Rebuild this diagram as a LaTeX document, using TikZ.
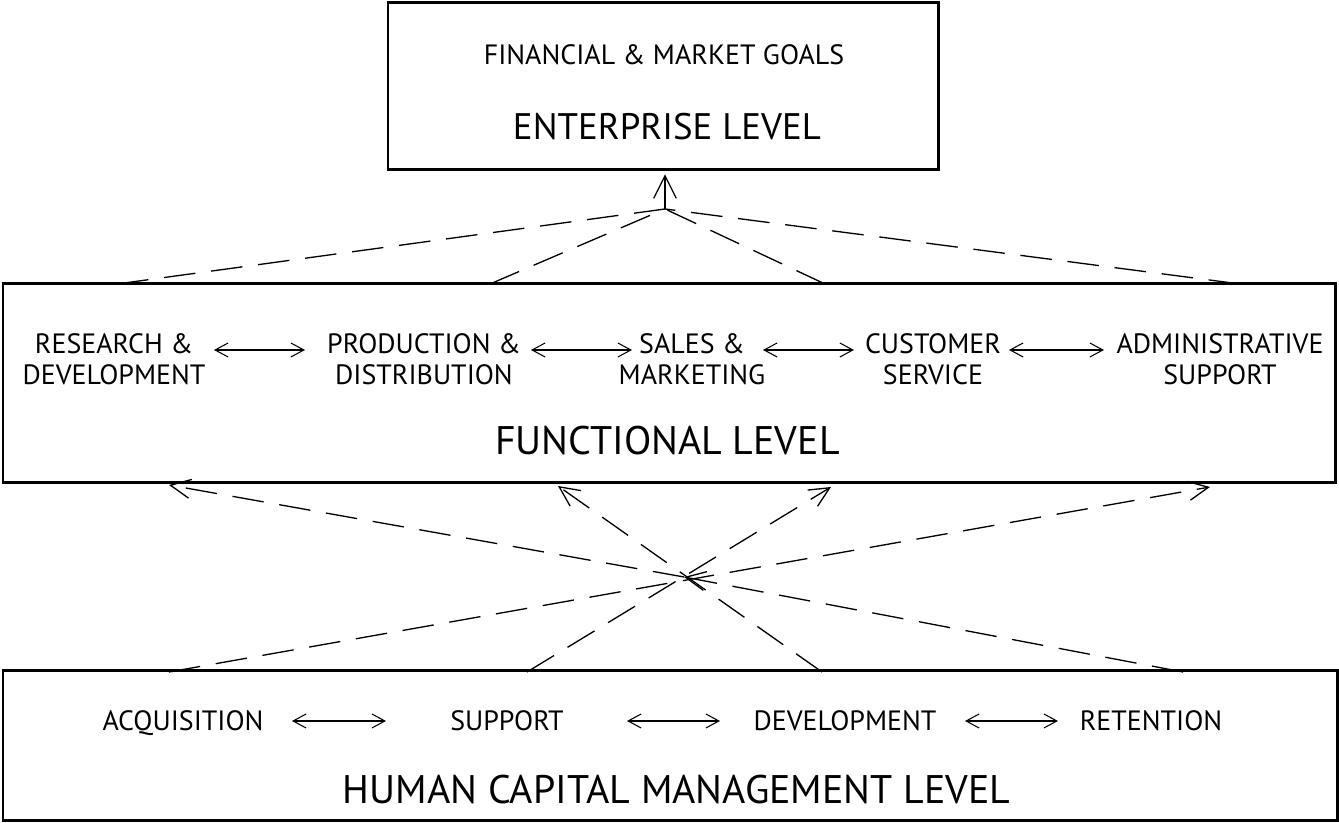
\documentclass[tikz,border=0pt]{standalone}
\usepackage{fontspec}
\setmainfont{PT Sans}
\usepackage{tikz}
\usetikzlibrary{arrows.meta,positioning}
\tikzset{>={Straight Barb[length=0.26cm,width=0.28cm]}}

\begin{document}
\begin{tikzpicture}[lvl/.style={draw,line width=1.7pt,inner sep=0pt},
                    item/.style={align=center,inner sep=0pt,text depth=0pt,font=\fontsize{15.9}{17.3}\selectfont},
                    big/.style={inner sep=0pt,text depth=0pt,font=\fontsize{22.7}{26}\selectfont},
                    dsh/.style={line width=0.75pt,dash pattern=on 18pt off 9pt},
                    dbl/.style={<->,line width=0.6pt}]
              \useasboundingbox (0,0) rectangle (26.78,16.46);

              \node[lvl,minimum width=11cm,minimum height=3.34cm] (ent) at (13.26,14.73) {};
              \node[lvl,minimum width=26.64cm,minimum height=3.98cm] (fun) at (13.38,8.79) {};
              \node[lvl,minimum width=26.68cm,minimum height=3cm] (hcm) at (13.40,1.54) {};

              \node[item] (goals) at (13.28,15.36) {FINANCIAL \& MARKET GOALS};
              \node[big,font=\fontsize{21}{24}\selectfont] (entlbl) at (13.34,13.94) {ENTERPRISE LEVEL};
              \node[big] (funlbl) at (13.35,7.66) {FUNCTIONAL LEVEL};
              \node[big] (hcmlbl) at (13.53,0.68) {HUMAN CAPITAL MANAGEMENT LEVEL};

              \node[item] (rd) at (2.28,9.28) {RESEARCH \&\\DEVELOPMENT};
              \node[item] (pd) at (8.48,9.28) {PRODUCTION \&\\DISTRIBUTION};
              \node[item] (sm) at (13.84,9.28) {SALES \&\\MARKETING};
              \node[item] (cs) at (18.66,9.28) {CUSTOMER\\SERVICE};
              \node[item] (as) at (24.40,9.28) {ADMINISTRATIVE\\SUPPORT};

              \node[item] (acq) at (3.66,2.04) {ACQUISITION};
              \node[item] (sup) at (10.14,2.04) {SUPPORT};
              \node[item] (dev) at (16.90,2.04) {DEVELOPMENT};
              \node[item] (ret) at (23.02,2.04) {RETENTION};

              \coordinate (apex) at (13.30,12.28);
              \coordinate (fu1) at (2.34,10.78);
              \coordinate (fu2) at (9.80,10.78);
              \coordinate (fu3) at (16.50,10.78);
              \coordinate (fu4) at (24.80,10.78);

              \coordinate (hub) at (13.68,4.92);
              \coordinate (fl1) at (3.38,6.76);
              \coordinate (fl2) at (11.16,6.74);
              \coordinate (fl3) at (16.62,6.72);
              \coordinate (fl4) at (24.20,6.72);
              \coordinate (hu1) at (3.38,3.02);
              \coordinate (hu2) at (10.54,3.02);
              \coordinate (hu3) at (16.44,3.02);
              \coordinate (hu4) at (23.66,3.02);

              \draw[dbl,shorten <=2.00cm,shorten >=2.38cm] ([yshift=0.18cm]rd.center) -- ([yshift=0.18cm]pd.center);
              \draw[dbl,shorten <=2.14cm,shorten >=1.20cm] ([yshift=0.18cm]pd.center) -- ([yshift=0.18cm]sm.center);
              \draw[dbl,shorten <=1.42cm,shorten >=1.58cm] ([yshift=0.18cm]sm.center) -- ([yshift=0.18cm]cs.center);
              \draw[dbl,shorten <=1.52cm,shorten >=2.32cm] ([yshift=0.18cm]cs.center) -- ([yshift=0.18cm]as.center);

              \draw[dbl,shorten <=2.18cm,shorten >=2.42cm] (acq.center) -- (sup.center);
              \draw[dbl,shorten <=2.40cm,shorten >=2.50cm] (sup.center) -- (dev.center);
              \draw[dbl,shorten <=2.40cm,shorten >=1.86cm] (dev.center) -- (ret.center);

              \draw[dsh] (fu1) -- (apex);
              \draw[dsh] (fu2) -- (apex);
              \draw[dsh] (fu3) -- (apex);
              \draw[dsh] (fu4) -- (apex);
              \draw[-{Straight Barb[length=0.45cm,width=0.45cm]},line width=0.7pt,shorten >=0.06cm] (apex) -- (apex |- ent.south);

              \draw[dsh,-{Straight Barb[length=0.4cm,width=0.38cm]}] (hu1) -- (fl4);
              \draw[dsh,-{Straight Barb[length=0.4cm,width=0.38cm]}] (hu2) -- (fl3);
              \draw[dsh,-{Straight Barb[length=0.4cm,width=0.38cm]}] (hu3) -- (fl2);
              \draw[dsh,-{Straight Barb[length=0.4cm,width=0.38cm]}] (hu4) -- (hub);
              \draw[dsh,-{Straight Barb[length=0.4cm,width=0.38cm]}] (hub) -- (fl1);
             \end{tikzpicture}
\end{document}
